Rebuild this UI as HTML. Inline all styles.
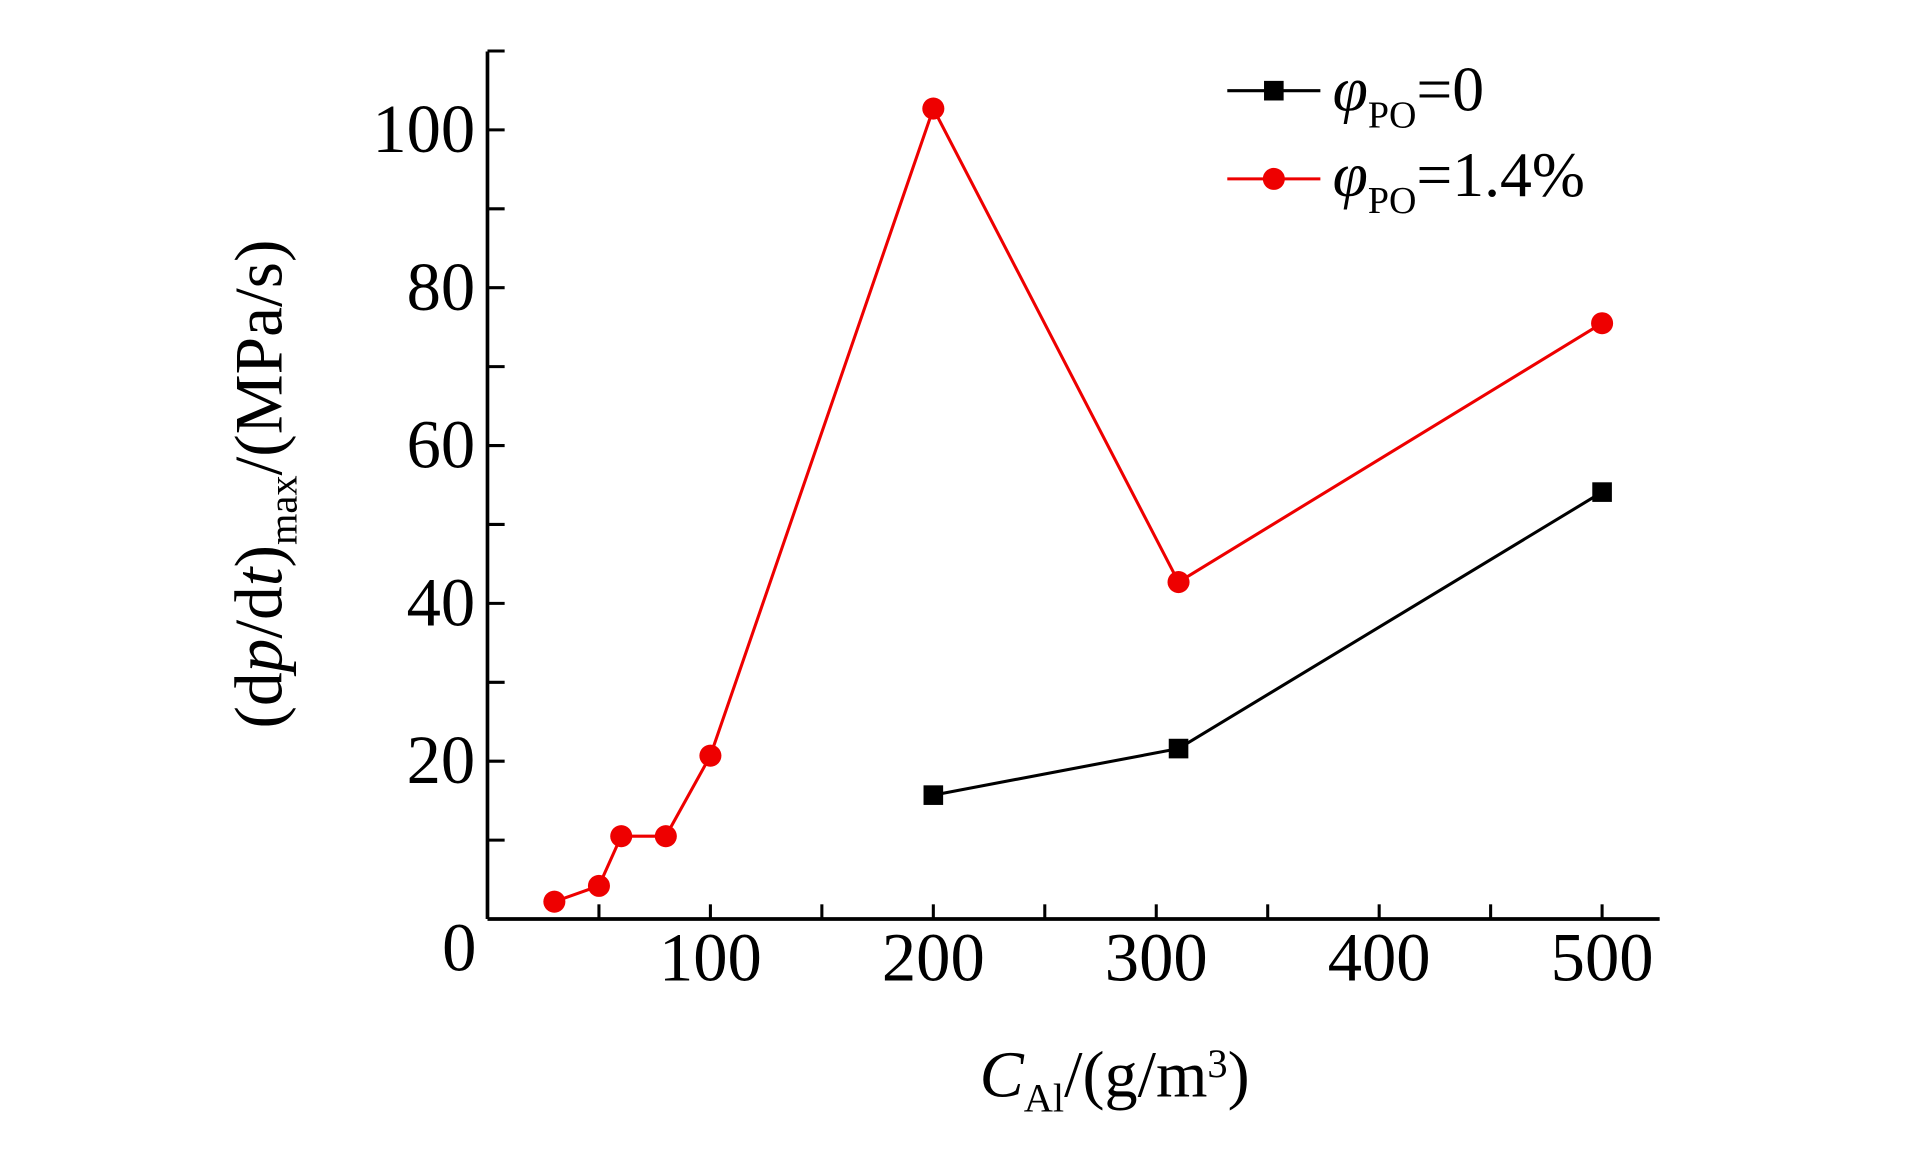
<!DOCTYPE html>
<html><head><meta charset="utf-8"><style>html,body{margin:0;padding:0;background:#fff;}svg{display:block;}</style></head>
<body>
<svg id="chart" width="1923" height="1169" viewBox="0 0 1570 954" preserveAspectRatio="none" xmlns="http://www.w3.org/2000/svg" font-family="'Liberation Serif', serif">
<g id="axes"></g>
<g id="plot"></g>
<g>
  <line x1="1002" y1="74" x2="1078" y2="74" stroke="#000" stroke-width="2.5"/>
  <rect x="1032" y="66" width="16" height="16" fill="#000"/>
  <text x="1088" y="90" font-size="52"><tspan font-style="italic">φ</tspan><tspan font-size="31" dy="14">PO</tspan><tspan dy="-14">=0</tspan></text>
  <line x1="1002" y1="146" x2="1078" y2="146" stroke="#e00" stroke-width="2.5"/>
  <circle cx="1040" cy="146" r="9" fill="#e00"/>
  <text x="1088" y="160" font-size="52"><tspan font-style="italic">φ</tspan><tspan font-size="31" dy="14">PO</tspan><tspan dy="-14">=1.4%</tspan></text>
</g>
<text transform="translate(230,395) rotate(-90)" text-anchor="middle" font-size="55">(d<tspan font-style="italic">p</tspan>/d<tspan font-style="italic">t</tspan>)<tspan font-size="33" dy="12">max</tspan><tspan dy="-12">/(MPa/s)</tspan></text>
<text x="910" y="895" text-anchor="middle" font-size="54"><tspan font-style="italic">C</tspan><tspan font-size="33" dy="12">Al</tspan><tspan dy="-12">/(g/m</tspan><tspan font-size="33" dy="-16">3</tspan><tspan dy="16">)</tspan></text>
</svg>
<script>
const xTickValues=[100,200,300,400,500];
const yTickValues=[20,40,60,80,100];
const redX=[30,50,60,80,100,200,310,500];
const redY=[2.2,4.2,10.5,10.5,20.7,102.7,42.7,75.5];
const blackX=[200,310,500];
const blackY=[15.7,21.6,54.1];
const NS="http://www.w3.org/2000/svg";
const X=v=>398+v*1.82;
const Y=v=>750-v*6.44;
function mk(p,tag,a){const e=document.createElementNS(NS,tag);for(const k in a)e.setAttribute(k,a[k]);p.appendChild(e);return e;}
const ax=document.getElementById('axes');
let l=mk(ax,'line',{x1:398,y1:42,x2:398,y2:750,stroke:'#000','stroke-width':3});


l=mk(ax,'line',{x1:398,y1:750,x2:1355,y2:750,stroke:'#000','stroke-width':3});


for(let v=50;v<=500;v+=50){const t=mk(ax,'line',{x1:X(v),y1:750,x2:X(v),y2:738,stroke:'#000','stroke-width':2.5});

}
for(let v=10;v<=110;v+=10){const t=mk(ax,'line',{x1:398,y1:Y(v),x2:412,y2:Y(v),stroke:'#000','stroke-width':2.5});

}
xTickValues.forEach(v=>{const t=mk(ax,'text',{x:X(v),y:800,'text-anchor':'middle','font-size':56});t.textContent=v;

});
yTickValues.forEach(v=>{const t=mk(ax,'text',{x:388,y:Y(v)+18,'text-anchor':'end','font-size':56});t.textContent=v;

});
let z=mk(ax,'text',{x:375,y:792,'text-anchor':'middle','font-size':56});z.textContent='0';


const pl=document.getElementById('plot');
function series(xs,ys,col,sq,name){
 const p=mk(pl,'polyline',{points:xs.map((x,i)=>X(x)+','+Y(ys[i])).join(' '),fill:'none',stroke:col,'stroke-width':2.5});
 
 
 xs.forEach((x,i)=>{let m;
  if(sq)m=mk(pl,'rect',{x:X(x)-8,y:Y(ys[i])-8,width:16,height:16,fill:col});
  else m=mk(pl,'circle',{cx:X(x),cy:Y(ys[i]),r:9,fill:col});
  
  });
}
series(redX,redY,'#e00',false,'series-1.4');
series(blackX,blackY,'#000',true,'series-0');
</script>
</body></html>
